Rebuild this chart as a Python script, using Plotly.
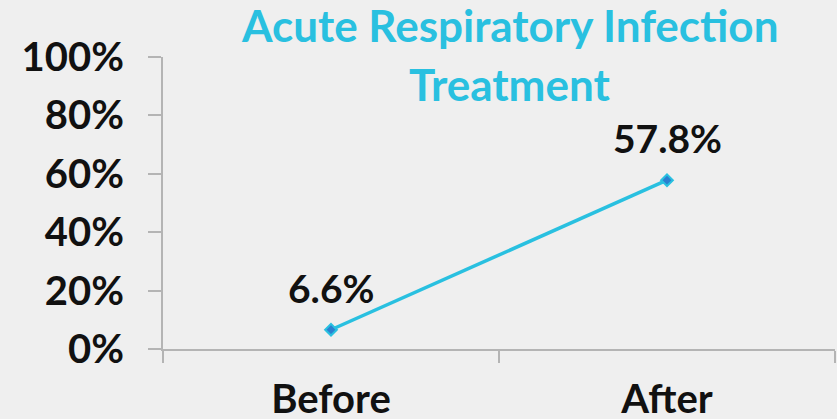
import plotly.graph_objects as go

# ── data ──────────────────────────────────────────────
categories = ["Before", "After"]
values = [6.6, 57.8]
value_labels = ["6.6%", "57.8%"]
y_ticks = [0, 20, 40, 60, 80, 100]
y_tick_labels = ["0%", "20%", "40%", "60%", "80%", "100%"]
title_lines = ["Acute Respiratory Infection", "Treatment"]

CYAN = "#29c0e0"
BG = "#efefef"
AXIS = "#b4b4b4"
FONT = "Lato, 'Open Sans', sans-serif"

fig = go.Figure()
fig.add_trace(go.Scatter(
    x=categories, y=values,
    mode="lines+markers",
    line=dict(color=CYAN, width=3.5),
    marker=dict(symbol="diamond", size=9, color="#2a7fd0",
                line=dict(color=CYAN, width=2)),
    cliponaxis=False,
    showlegend=False,
))

# value labels above points
for cat, val, lab in zip(categories, values, value_labels):
    fig.add_annotation(
        x=cat, y=val, text=f"<b>{lab}</b>", showarrow=False,
        yanchor="bottom", yshift=17,
        font=dict(family=FONT, size=39, color="#111111"),
    )

# two-line title as annotations
for line, ypos in zip(title_lines, [1.11, 0.907]):
    fig.add_annotation(
        x=0.516, xref="paper", y=ypos, yref="paper",
        text=f"<b>{line}</b>", showarrow=False,
        xanchor="center", yanchor="middle",
        font=dict(family=FONT, size=44, color=CYAN),
    )

fig.update_layout(
    width=837, height=419,
    paper_bgcolor=BG, plot_bgcolor=BG,
    margin=dict(l=163, r=2, t=57, b=70),
    xaxis=dict(
        type="category", range=[-0.5, 1.5], automargin=False,
        showline=True, linecolor=AXIS, linewidth=2,
        ticks="outside", tickson="boundaries", ticklen=12,
        tickcolor=AXIS, tickwidth=2,
        showgrid=False, zeroline=False,
        tickfont=dict(family=FONT, size=40, color="#111111"),
        tickprefix="<b>", ticksuffix="</b>",
        ticklabelstandoff=14,
    ),
    yaxis=dict(
        range=[0, 100], automargin=False,
        tickvals=y_ticks, ticktext=[f"<b>{t}</b>" for t in y_tick_labels],
        showline=True, linecolor=AXIS, linewidth=2,
        ticks="outside", ticklen=13, tickcolor=AXIS, tickwidth=2,
        showgrid=False, zeroline=False,
        tickfont=dict(family=FONT, size=40, color="#111111"),
        ticklabelstandoff=16,
    ),
)

fig.write_html(
    "out.html",
    config={"displayModeBar": False},
    post_script="document.body.style.margin='0';document.body.style.background='#efefef';",
)
